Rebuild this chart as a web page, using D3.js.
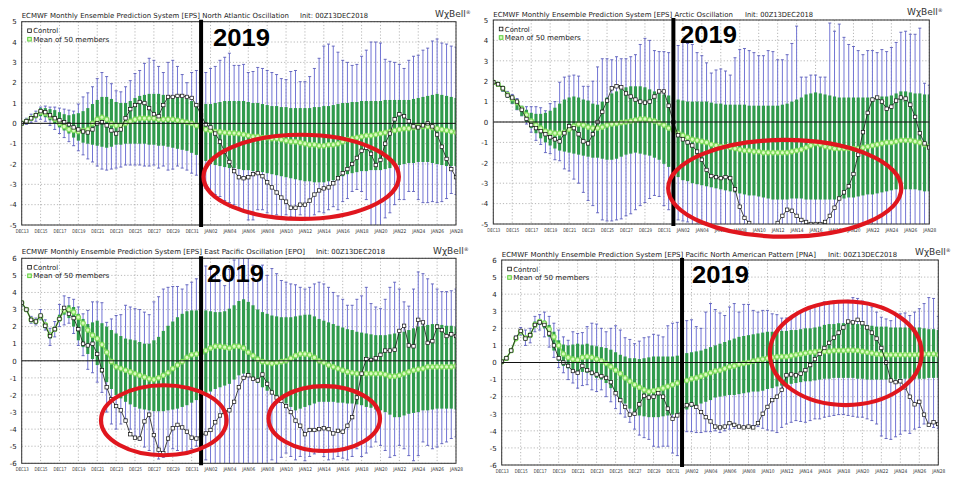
<!DOCTYPE html>
<html>
<head>
<meta charset="utf-8">
<script src="https://cdn.jsdelivr.net/npm/d3@7"></script>
<style>
  body { margin: 0; background: #fff; }
  svg { display: block; }
  text { font-family: "DejaVu Sans", Verdana, sans-serif; }
</style>
</head>
<body>
<svg id="chart"></svg>
<script>
// 12-hourly steps from 00Z 13 Dec 2018 to 00Z 28 Jan 2019 (93 steps)
const xTickLabels = ['DEC13', 'DEC15', 'DEC17', 'DEC19', 'DEC21', 'DEC23', 'DEC25', 'DEC27', 'DEC29', 'DEC31',
  'JAN02', 'JAN04', 'JAN06', 'JAN08', 'JAN10', 'JAN12', 'JAN14', 'JAN16', 'JAN18', 'JAN20', 'JAN22', 'JAN24', 'JAN26', 'JAN28']
const yTicks5 = [-5, -4, -3, -2, -1, 0, 1, 2, 3, 4, 5]
const yTicks6 = [-6, -5, -4, -3, -2, -1, 0, 1, 2, 3, 4, 5, 6]

// North Atlantic Oscillation
const naoControl = [
  0.0, 0.1, 0.25, 0.4, 0.6, 0.55, 0.4, 0.25, 0.15, 0.05,
  -0.05, -0.2, -0.3, -0.4, -0.45, -0.3, 0.0, 0.05, -0.1, -0.35,
  -0.5, -0.3, 0.25, 0.7, 0.9, 1.05, 1.0, 0.75, 0.45, 0.35,
  0.9, 1.3, 1.3, 1.35, 1.35, 1.3, 1.25, 0.9, 0.4, -0.05,
  -0.2, -0.5, -0.9, -1.4, -1.9, -2.35, -2.65, -2.7, -2.65, -2.5,
  -2.45, -2.6, -2.9, -3.15, -3.4, -3.65, -3.85, -4.15, -4.15, -4.0,
  -4.0, -3.8, -3.5, -3.3, -3.2, -3.15, -2.95, -2.7, -2.45, -2.25,
  -2.0, -1.7, -1.35, -1.2, -1.5, -2.05, -1.8, -1.0, -0.5, 0.2,
  0.45, 0.35, 0.1, -0.15, -0.2, -0.1, 0.0, -0.15, -0.55, -1.15,
  -1.75, -2.25, -2.65]
const naoMean = [
  0.0, 0.1, 0.25, 0.4, 0.55, 0.5, 0.35, 0.2, 0.0, -0.15,
  -0.3, -0.35, -0.4, -0.35, -0.3, 0.0, 0.2, 0.3, 0.2, 0.0,
  -0.1, -0.1, 0.0, 0.1, 0.2, 0.25, 0.25, 0.25, 0.25, 0.2,
  0.2, 0.2, 0.2, 0.15, 0.1, 0.05, 0.0, -0.1, -0.2, -0.3,
  -0.35, -0.4, -0.42, -0.45, -0.47, -0.48, -0.5, -0.55, -0.6, -0.65,
  -0.65, -0.7, -0.7, -0.75, -0.75, -0.8, -0.85, -0.9, -0.9, -0.95,
  -1.0, -1.05, -1.05, -1.1, -1.1, -1.05, -1.05, -1.0, -0.9, -0.8,
  -0.75, -0.7, -0.65, -0.6, -0.6, -0.55, -0.5, -0.45, -0.4, -0.35,
  -0.3, -0.25, -0.25, -0.2, -0.15, -0.15, -0.15, -0.2, -0.25, -0.3,
  -0.35, -0.4, -0.45]
const naoBoxHi = [
  0.05, 0.15, 0.3, 0.5, 0.75, 0.75, 0.7, 0.65, 0.55, 0.45,
  0.4, 0.45, 0.5, 0.6, 0.75, 0.95, 1.15, 1.3, 1.3, 1.2,
  1.05, 1.0, 1.0, 1.1, 1.25, 1.35, 1.4, 1.45, 1.45, 1.45,
  1.4, 1.35, 1.35, 1.3, 1.25, 1.2, 1.1, 1.0, 0.95, 0.95,
  0.95, 1.0, 1.05, 1.1, 1.1, 1.1, 1.1, 1.1, 1.05, 1.0,
  1.0, 0.95, 0.9, 0.85, 0.85, 0.8, 0.8, 0.75, 0.75, 0.75,
  0.75, 0.75, 0.8, 0.8, 0.85, 0.85, 0.9, 0.95, 1.0, 1.0,
  1.05, 1.05, 1.1, 1.1, 1.1, 1.1, 1.1, 1.15, 1.15, 1.15,
  1.15, 1.15, 1.15, 1.2, 1.25, 1.3, 1.35, 1.4, 1.45, 1.4,
  1.35, 1.3, 1.25]
const naoBoxLo = [
  -0.05, 0.05, 0.15, 0.25, 0.35, 0.3, 0.15, 0.0, -0.2, -0.35,
  -0.5, -0.7, -0.85, -0.95, -1.0, -1.05, -1.1, -1.15, -1.2, -1.15,
  -1.05, -1.05, -1.0, -1.0, -1.0, -1.0, -1.0, -1.05, -1.05, -1.1,
  -1.1, -1.15, -1.2, -1.25, -1.3, -1.35, -1.45, -1.55, -1.7, -1.85,
  -2.0, -2.05, -2.1, -2.15, -2.2, -2.2, -2.25, -2.3, -2.3, -2.35,
  -2.35, -2.4, -2.45, -2.5, -2.55, -2.6, -2.65, -2.7, -2.75, -2.8,
  -2.85, -2.85, -2.9, -2.9, -2.9, -2.85, -2.8, -2.7, -2.6, -2.5,
  -2.45, -2.4, -2.35, -2.35, -2.3, -2.3, -2.3, -2.25, -2.2, -2.1,
  -2.05, -2.0, -1.95, -1.95, -1.9, -1.9, -1.9, -1.95, -2.0, -2.05,
  -2.1, -2.1, -2.1]
const naoWhiskHi = [
  0.1, 0.25, 0.45, 0.6, 0.8, 0.85, 0.8, 0.8, 0.75, 0.7,
  0.65, 0.6, 0.95, 1.3, 1.5, 1.8, 2.2, 2.5, 2.3, 1.95,
  1.6, 1.55, 1.8, 2.1, 2.45, 2.6, 2.95, 3.2, 3.1, 2.8,
  2.5, 3.0, 3.1, 2.8, 2.4, 2.0, 2.5, 2.6, 2.55, 2.5,
  2.7, 2.8, 3.1, 3.25, 3.45, 2.85, 2.85, 2.9, 2.5, 2.55,
  2.75, 2.7, 2.6, 2.5, 2.4, 2.2, 2.15, 2.55, 2.6, 2.05,
  2.05, 2.3, 2.7, 3.2, 3.8, 3.9, 3.8, 3.5, 3.1, 3.0,
  2.85, 2.9, 3.3, 3.6, 4.0, 4.0, 3.95, 3.15, 3.05, 3.0,
  2.9, 2.7, 3.1, 3.3, 3.35, 3.6, 3.7, 4.05, 4.15, 3.95,
  3.9, 3.8, 3.75]
const naoWhiskLo = [
  -0.1, -0.05, 0.05, 0.1, 0.2, 0.1, -0.1, -0.3, -0.5, -0.7,
  -0.9, -1.1, -1.35, -1.55, -1.75, -1.9, -2.1, -2.25, -2.3, -2.25,
  -2.2, -2.15, -2.05, -2.05, -2.05, -2.05, -2.1, -2.1, -2.05, -2.2,
  -2.1, -2.3, -2.25, -2.1, -2.2, -2.3, -2.45, -2.55, -2.75, -3.2,
  -3.4, -3.5, -3.6, -3.8, -3.9, -4.0, -4.15, -4.3, -4.75, -4.75,
  -4.25, -4.25, -4.4, -4.6, -4.5, -4.65, -4.5, -4.6, -4.65, -4.5,
  -4.75, -4.65, -4.5, -4.35, -4.4, -4.25, -4.1, -4.25, -3.85, -3.7,
  -3.35, -3.25, -3.35, -3.75, -5.3, -5.3, -5.3, -4.65, -4.4, -4.0,
  -3.75, -3.75, -3.35, -3.35, -3.75, -3.9, -3.9, -3.85, -3.9, -3.85,
  -3.7, -3.45, -3.5]

// Arctic Oscillation
const aoControl = [
  1.95, 1.85, 1.65, 1.3, 1.2, 1.0, 0.6, 0.15, -0.15, -0.3,
  -0.45, -0.6, -0.75, -0.85, -0.95, -0.55, -0.2, -0.3, -0.6, -0.95,
  -1.05, -0.6, 0.0, 0.5, 1.05, 1.65, 1.75, 1.7, 1.4, 1.25,
  1.1, 1.0, 0.95, 1.0, 1.25, 1.5, 1.5, 0.8, 0.0, -0.65,
  -0.85, -1.0, -1.15, -1.45, -1.85, -2.35, -2.65, -2.7, -2.75, -2.7,
  -2.75, -3.3, -4.15, -4.7, -4.95, -5.3, -5.6, -5.7, -5.6, -5.3,
  -4.95, -4.6, -4.3, -4.35, -4.6, -4.8, -4.9, -5.0, -5.0, -5.0,
  -4.9, -4.6, -4.2, -3.75, -3.45, -3.15, -2.55, -1.6, -0.5, 0.45,
  1.1, 1.2, 1.0, 0.65, 0.75, 1.05, 1.2, 1.15, 0.85, 0.25,
  -0.55, -1.05, -1.25]
const aoMean = [
  1.95, 1.85, 1.65, 1.35, 1.15, 0.95, 0.65, 0.35, 0.05, -0.15,
  -0.3, -0.45, -0.5, -0.55, -0.55, -0.5, -0.35, -0.2, -0.1, -0.15,
  -0.25, -0.3, -0.3, -0.25, -0.15, -0.1, -0.07, -0.03, 0.0, 0.05,
  0.1, 0.15, 0.15, 0.1, 0.05, -0.05, -0.15, -0.3, -0.4, -0.55,
  -0.65, -0.75, -0.85, -0.9, -0.95, -1.0, -1.1, -1.15, -1.2, -1.2,
  -1.25, -1.3, -1.35, -1.4, -1.4, -1.45, -1.45, -1.5, -1.5, -1.5,
  -1.5, -1.5, -1.5, -1.45, -1.4, -1.35, -1.25, -1.15, -1.05, -1.1,
  -1.2, -1.25, -1.3, -1.3, -1.3, -1.3, -1.3, -1.3, -1.25, -1.2,
  -1.15, -1.1, -1.05, -1.0, -1.0, -0.95, -0.9, -0.9, -0.9, -0.95,
  -1.0, -1.1, -1.2]
const aoBoxHi = [
  1.95, 1.9, 1.7, 1.45, 1.3, 1.1, 0.8, 0.6, 0.45, 0.4,
  0.4, 0.45, 0.55, 0.7, 0.9, 1.1, 1.2, 1.25, 1.2, 1.1,
  1.05, 0.9, 0.85, 1.0, 1.2, 1.4, 1.5, 1.6, 1.7, 1.75,
  1.75, 1.75, 1.7, 1.6, 1.5, 1.4, 1.35, 1.3, 1.2, 1.1,
  1.05, 1.0, 1.0, 1.0, 1.0, 1.0, 0.95, 0.9, 0.9, 0.85,
  0.85, 0.85, 0.85, 0.85, 0.8, 0.8, 0.8, 0.8, 0.8, 0.8,
  0.8, 0.85, 0.9, 1.0, 1.1, 1.2, 1.35, 1.4, 1.45, 1.4,
  1.35, 1.3, 1.25, 1.2, 1.2, 1.2, 1.2, 1.2, 1.2, 1.2,
  1.2, 1.2, 1.25, 1.25, 1.3, 1.4, 1.5, 1.5, 1.45, 1.4,
  1.4, 1.35, 1.35]
const aoBoxLo = [
  1.9, 1.75, 1.5, 1.2, 0.9, 0.6, 0.3, 0.0, -0.3, -0.55,
  -0.8, -1.0, -1.15, -1.3, -1.4, -1.45, -1.5, -1.55, -1.6, -1.65,
  -1.7, -1.75, -1.75, -1.8, -1.85, -1.85, -1.8, -1.7, -1.6, -1.55,
  -1.5, -1.55, -1.6, -1.65, -1.75, -1.85, -2.05, -2.2, -2.5, -2.7,
  -2.85, -2.9, -3.0, -3.05, -3.1, -3.15, -3.2, -3.25, -3.3, -3.35,
  -3.4, -3.45, -3.5, -3.55, -3.6, -3.6, -3.65, -3.7, -3.75, -3.8,
  -3.8, -3.8, -3.8, -3.75, -3.75, -3.75, -3.8, -3.8, -3.8, -3.8,
  -3.8, -3.8, -3.8, -3.75, -3.75, -3.7, -3.7, -3.65, -3.6, -3.55,
  -3.55, -3.5, -3.45, -3.4, -3.35, -3.3, -3.3, -3.3, -3.3, -3.3,
  -3.35, -3.4, -3.4]
const aoWhiskHi = [
  2.0, 1.95, 1.75, 1.5, 1.35, 1.15, 0.75, 0.75, 0.75, 0.75,
  0.7, 0.55, 0.9, 1.0, 1.95, 2.2, 2.25, 2.3, 2.25, 1.75,
  1.75, 2.0, 2.7, 3.1, 3.1, 3.05, 3.2, 3.1, 3.1, 3.2,
  3.3, 3.8, 4.1, 4.0, 3.5, 3.45, 3.45, 3.4, 3.7, 3.75,
  3.9, 3.85, 3.8, 3.4, 3.25, 2.9, 2.4, 2.55, 2.6, 2.5,
  2.3, 3.15, 3.55, 3.6, 3.5, 3.4, 3.25, 3.25, 3.5, 3.45,
  3.05, 3.05, 3.3, 3.85, 4.7, 2.2, 2.2, 2.3, 2.3, 2.2,
  2.2, 4.85, 4.45, 4.8, 4.15, 3.8, 3.7, 3.5, 3.3, 3.5,
  3.5, 3.4, 3.55, 3.45, 3.65, 3.9, 4.4, 4.45, 4.3, 4.3,
  4.6, 1.9, 1.8]
const aoWhiskLo = [
  1.9, 1.75, 1.5, 1.2, 0.9, 0.6, 0.3, -0.1, -0.5, -0.9,
  -1.1, -1.5, -1.55, -1.85, -1.9, -2.3, -2.4, -2.8, -3.0, -3.45,
  -3.85, -4.1, -4.45, -4.8, -4.85, -4.85, -4.8, -4.75, -4.6, -4.5,
  -4.3, -4.1, -3.95, -3.75, -3.6, -3.65, -4.1, -4.3, -4.6, -4.8,
  -4.85, -4.9, -5.3, -5.3, -5.3, -5.3, -5.3, -5.3, -5.3, -5.3,
  -5.3, -5.3, -5.3, -5.3, -5.3, -5.3, -5.3, -5.3, -5.3, -5.3,
  -5.3, -5.3, -5.3, -5.3, -5.3, -5.3, -5.3, -5.3, -5.3, -5.3,
  -5.3, -5.3, -5.3, -5.3, -5.3, -5.3, -5.3, -5.3, -5.3, -5.3,
  -5.3, -5.3, -5.3, -5.3, -5.3, -5.3, -5.3, -5.3, -5.3, -5.3,
  -5.3, -5.3, -5.3]

// East Pacific Oscillation
const epoControl = [
  3.4, 3.0, 2.4, 2.3, 2.65, 2.05, 1.45, 1.85, 2.45, 3.1,
  2.75, 2.5, 1.85, 1.0, 0.9, 1.0, 0.4, -0.55, -1.55, -2.25,
  -2.65, -2.9, -3.5, -4.3, -4.5, -4.55, -3.55, -3.15, -4.35, -5.2,
  -5.4, -4.55, -3.95, -3.75, -3.9, -4.15, -4.5, -4.55, -4.35, -4.25,
  -4.05, -3.6, -3.2, -3.0, -2.9, -2.4, -1.55, -1.0, -0.85, -1.05,
  -1.15, -0.8, -1.35, -1.85, -2.15, -2.35, -2.65, -3.0, -3.5, -3.8,
  -4.3, -4.05, -4.05, -4.0, -3.95, -4.0, -4.25, -4.1, -4.15, -3.8,
  -3.3, -2.15, -0.75, 0.1, 0.05, 0.15, 0.35, 0.6, 0.6, 0.65,
  1.75, 2.05, 0.9, 0.85, 2.4, 2.25, 1.05, 1.15, 2.0, 1.8,
  1.45, 1.55, 1.45]
const epoMean = [
  3.4, 3.0, 2.4, 2.3, 2.6, 2.1, 1.5, 1.85, 2.45, 2.95,
  3.0, 2.85, 2.55, 2.2, 1.8, 1.5, 1.3, 0.95, 0.5, -0.05,
  -0.35, -0.45, -0.55, -0.65, -0.75, -0.85, -0.95, -1.05, -1.1, -1.0,
  -0.85, -0.7, -0.45, -0.25, -0.05, 0.2, 0.35, 0.4, 0.45, 0.6,
  0.75, 0.85, 0.85, 0.8, 0.75, 0.85, 0.85, 0.75, 0.5, 0.3,
  0.1, -0.05, -0.1, -0.15, -0.1, -0.05, 0.0, 0.15, 0.3, 0.4,
  0.4, 0.35, 0.2, 0.0, -0.1, -0.25, -0.35, -0.45, -0.55, -0.65,
  -0.7, -0.75, -0.75, -0.75, -0.75, -0.75, -0.75, -0.8, -0.9, -0.9,
  -0.85, -0.75, -0.65, -0.55, -0.5, -0.45, -0.35, -0.35, -0.35, -0.35,
  -0.35, -0.35, -0.3]
const epoBoxHi = [
  3.45, 3.05, 2.5, 2.4, 2.75, 2.2, 1.65, 2.0, 2.7, 3.2,
  3.25, 3.15, 2.75, 2.45, 2.15, 2.25, 2.35, 2.2, 2.0, 1.8,
  1.6, 1.45, 1.3, 1.25, 1.2, 1.1, 1.0, 1.0, 1.2, 1.4,
  1.75, 2.05, 2.3, 2.55, 2.75, 2.9, 2.95, 2.95, 2.95, 2.95,
  2.9, 2.85, 2.85, 2.9, 3.05, 3.25, 3.5, 3.6, 3.45, 3.25,
  3.0, 2.85, 2.75, 2.65, 2.6, 2.55, 2.55, 2.55, 2.6, 2.65,
  2.7, 2.7, 2.6, 2.45, 2.35, 2.25, 2.15, 2.05, 1.95, 1.85,
  1.8, 1.7, 1.65, 1.6, 1.55, 1.5, 1.5, 1.5, 1.55, 1.6,
  1.6, 1.7, 1.8, 1.9, 2.0, 2.05, 2.1, 2.15, 2.15, 2.1,
  2.05, 2.05, 2.0]
const epoBoxLo = [
  3.3, 2.95, 2.3, 2.2, 2.5, 1.9, 1.3, 1.7, 2.3, 2.7,
  2.5, 2.0, 1.2, 0.8, 0.4, 0.1, -0.25, -0.7, -1.25, -1.65,
  -2.0, -2.2, -2.4, -2.55, -2.7, -2.8, -2.85, -2.9, -2.95, -2.95,
  -2.95, -2.9, -2.85, -2.8, -2.7, -2.6, -2.45, -2.3, -2.1, -1.95,
  -1.8, -1.65, -1.55, -1.45, -1.35, -1.1, -0.85, -0.75, -0.85, -1.05,
  -1.3, -1.55, -1.75, -1.95, -2.15, -2.3, -2.5, -2.7, -2.9, -2.8,
  -2.7, -2.6, -2.5, -2.4, -2.4, -2.4, -2.4, -2.45, -2.45, -2.5,
  -2.5, -2.55, -2.6, -2.7, -2.75, -2.85, -2.9, -3.0, -3.15, -3.3,
  -3.3, -3.2, -3.1, -3.05, -3.0, -2.9, -2.9, -2.85, -2.8, -2.8,
  -2.8, -2.8, -2.85]
const epoWhiskHi = [
  3.5, 3.1, 2.6, 2.5, 3.0, 2.4, 1.9, 2.3, 3.3, 3.8,
  3.7, 3.6, 3.15, 2.75, 2.95, 3.45, 3.45, 3.4, 2.25, 2.45,
  2.65, 2.7, 3.25, 3.15, 3.05, 3.0, 2.85, 2.7, 3.45, 3.75,
  4.2, 4.3, 4.35, 4.35, 4.2, 4.45, 4.6, 4.8, 5.0, 5.55,
  5.35, 5.1, 4.7, 4.4, 5.35, 5.9, 6.2, 6.0, 6.0, 5.6,
  4.7, 5.6, 5.0, 5.4, 5.1, 4.7, 4.6, 4.5, 4.45, 4.3,
  4.2, 4.3, 4.5, 4.6, 4.5, 4.3, 4.0, 3.8, 3.6, 3.25,
  3.25, 3.6, 3.8, 4.3, 3.35, 3.15, 3.05, 3.6, 4.3, 4.6,
  4.2, 3.45, 3.2, 4.2, 5.2, 5.1, 4.8, 4.5, 4.2, 4.05,
  4.05, 4.1, 4.2]
const epoWhiskLo = [
  3.2, 2.9, 2.2, 2.1, 2.4, 1.8, 0.9, 1.4, 2.0, 2.1,
  2.2, 1.6, 0.9, 0.3, -0.5, -0.7, -1.25, -1.85, -3.0, -3.7,
  -4.0, -3.7, -3.4, -4.0, -4.45, -4.65, -5.05, -5.25, -5.55, -5.75,
  -5.65, -5.45, -5.15, -5.25, -5.45, -5.3, -5.15, -5.0, -5.5, -5.8,
  -6.2, -6.2, -6.2, -6.2, -6.2, -6.2, -6.2, -6.2, -6.2, -6.2,
  -6.2, -6.2, -6.2, -5.8, -6.0, -5.65, -5.4, -5.6, -5.8, -5.6,
  -5.85, -5.6, -5.45, -5.35, -5.6, -5.8, -5.75, -5.6, -5.7, -5.8,
  -5.6, -5.15, -5.6, -5.4, -5.05, -4.75, -4.95, -5.25, -5.65, -5.55,
  -4.95, -5.15, -5.55, -5.85, -5.55, -4.75, -4.95, -5.15, -5.05, -4.85,
  -4.75, -4.55, -4.45]

// Pacific North American Pattern
const pnaControl = [
  0.05, 0.25, 0.7, 1.45, 1.85, 1.4, 1.6, 2.2, 2.35, 2.2,
  1.7, 1.0, 0.25, 0.0, -0.2, -0.5, -0.6, -0.2, -0.45, -0.6,
  -0.7, -0.8, -0.9, -1.15, -1.8, -2.2, -2.6, -3.05, -3.0, -2.45,
  -1.95, -2.05, -2.0, -1.8, -2.0, -2.7, -3.3, -3.1, -2.8, -2.5,
  -2.45, -2.6, -2.9, -3.2, -3.45, -3.75, -3.8, -3.75, -3.55, -3.65,
  -3.75, -3.8, -3.75, -3.8, -3.55, -3.0, -2.6, -2.2, -2.0, -1.6,
  -0.75, -0.7, -0.75, -0.65, -0.45, -0.15, 0.2, 0.5, 0.85, 1.15,
  1.45, 1.75, 2.05, 2.4, 2.35, 2.5, 2.3, 2.05, 1.75, 1.4,
  0.85, 0.0, -1.05, -1.15, -1.1, -1.45, -2.0, -2.45, -2.3, -3.05,
  -3.65, -3.5, -3.6]
const pnaMean = [
  0.05, 0.25, 0.7, 1.4, 1.8, 1.45, 1.6, 2.2, 2.4, 2.3,
  1.95, 1.5, 1.0, 0.5, 0.3, 0.2, 0.15, 0.3, 0.35, 0.3,
  0.2, 0.1, -0.05, -0.25, -0.45, -0.65, -0.9, -1.1, -1.3, -1.45,
  -1.6, -1.7, -1.65, -1.6, -1.5, -1.4, -1.3, -1.2, -1.1, -1.05,
  -0.95, -0.9, -0.8, -0.7, -0.6, -0.5, -0.45, -0.35, -0.25, -0.2,
  -0.1, -0.05, 0.0, 0.08, 0.15, 0.2, 0.25, 0.3, 0.33, 0.35,
  0.35, 0.4, 0.45, 0.5, 0.55, 0.6, 0.62, 0.65, 0.65, 0.65,
  0.7, 0.7, 0.7, 0.72, 0.72, 0.7, 0.65, 0.6, 0.55, 0.5,
  0.47, 0.45, 0.45, 0.45, 0.45, 0.45, 0.45, 0.45, 0.47, 0.5,
  0.5, 0.5, 0.45]
const pnaBoxHi = [
  0.1, 0.3, 0.75, 1.5, 1.95, 1.55, 1.75, 2.4, 2.55, 2.45,
  2.2, 1.8, 1.3, 1.05, 1.0, 1.05, 1.1, 1.05, 1.1, 1.0,
  0.95, 0.9, 0.85, 0.75, 0.6, 0.45, 0.35, 0.25, 0.25, 0.2,
  0.25, 0.3, 0.35, 0.35, 0.35, 0.35, 0.35, 0.4, 0.45, 0.55,
  0.6, 0.65, 0.7, 0.8, 0.9, 1.0, 1.1, 1.2, 1.3, 1.4,
  1.5, 1.55, 1.6, 1.65, 1.7, 1.75, 1.8, 1.8, 1.85, 1.85,
  1.85, 1.9, 1.9, 1.95, 2.0, 2.0, 2.05, 2.1, 2.2, 2.25,
  2.25, 2.3, 2.3, 2.3, 2.3, 2.25, 2.25, 2.2, 2.15, 2.1,
  2.1, 2.1, 2.05, 2.05, 2.05, 2.05, 2.05, 2.05, 2.05, 2.0,
  1.95, 1.95, 1.9]
const pnaBoxLo = [
  0.0, 0.2, 0.65, 1.35, 1.7, 1.3, 1.45, 2.05, 2.2, 2.0,
  1.5, 0.7, 0.1, -0.2, -0.35, -0.5, -0.6, -0.55, -0.6, -0.75,
  -0.9, -1.0, -1.2, -1.5, -1.8, -2.1, -2.4, -2.7, -2.9, -3.1,
  -3.15, -3.2, -3.2, -3.2, -3.15, -3.1, -3.05, -3.0, -2.9, -2.75,
  -2.6, -2.5, -2.4, -2.3, -2.2, -2.05, -2.0, -1.95, -1.9, -1.9,
  -1.85, -1.8, -1.75, -1.7, -1.7, -1.65, -1.55, -1.5, -1.4, -1.35,
  -1.3, -1.25, -1.2, -1.15, -1.1, -1.1, -1.05, -1.0, -0.95, -0.95,
  -0.9, -0.9, -0.9, -0.9, -0.9, -0.95, -0.95, -1.0, -1.0, -1.0,
  -1.0, -1.0, -1.0, -1.0, -0.95, -0.95, -0.95, -0.95, -0.95, -0.95,
  -0.9, -0.9, -0.9]
const pnaWhiskHi = [
  0.1, 0.3, 0.8, 1.55, 2.05, 1.9, 2.0, 2.7, 2.8, 2.95,
  2.7, 2.3, 1.9, 1.5, 1.3, 1.8, 1.7, 1.75, 2.1, 2.3,
  2.25, 2.0, 1.8, 2.0, 2.15, 1.9, 1.45, 1.35, 1.1, 1.25,
  1.45, 1.5, 1.65, 1.6, 1.5, 2.15, 2.3, 2.35, 2.4, 2.45,
  2.5, 2.1, 2.0, 2.95, 3.45, 3.1, 2.9, 2.75, 3.25, 3.45,
  2.95, 3.4, 3.4, 3.05, 2.95, 3.05, 3.05, 2.85, 2.8, 2.6,
  2.6, 2.55, 2.75, 2.95, 3.05, 3.25, 3.35, 3.45, 3.55, 3.55,
  3.6, 3.6, 3.6, 3.65, 3.8, 3.75, 3.6, 3.45, 3.25, 2.95,
  2.65, 2.55, 2.45, 2.75, 2.85, 2.9, 2.75, 2.95, 3.15, 3.45,
  3.8, 3.75, 2.7]
const pnaWhiskLo = [
  0.0, 0.15, 0.6, 1.3, 1.6, 1.0, 1.15, 1.8, 1.9, 1.5,
  0.9, 0.3, -0.3, -0.6, -1.0, -1.2, -1.5, -1.35, -1.3, -1.6,
  -1.7, -1.6, -2.0, -2.3, -2.7, -3.0, -3.2, -3.5, -3.9, -4.25,
  -4.4, -4.5, -4.9, -4.95, -4.9, -4.9, -5.3, -5.45, -5.0, -4.05,
  -4.05, -4.1, -4.1, -4.05, -4.05, -4.0, -4.1, -4.0, -3.9, -3.85,
  -3.8, -3.75, -3.7, -3.7, -3.75, -3.85, -3.95, -4.0, -4.1, -3.8,
  -3.6, -3.5, -3.4, -3.45, -3.5, -3.4, -3.3, -3.3, -3.2, -3.15,
  -3.1, -3.05, -3.05, -3.1, -3.15, -3.2, -3.2, -3.3, -3.4, -3.6,
  -4.3, -4.45, -4.5, -4.35, -4.2, -4.0, -4.15, -3.9, -3.8, -3.6,
  -3.7, -3.8, -3.85]

const titleBase = 'ECMWF Monthly Ensemble Prediction System [EPS] '
const initText = 'Init: 00Z13DEC2018'
const yearIndex = 38   // 00Z 01 Jan 2019

const panels = [
  { name: 'North Atlantic Oscillation', box: [21.7, 21.7, 456, 225], yDomain: [-5, 5], yTicks: yTicks5,
    control: naoControl, mean: naoMean, boxHi: naoBoxHi, boxLo: naoBoxLo, whiskHi: naoWhiskHi, whiskLo: naoWhiskLo,
    titleY: 17.5, titleEnd: 289, initX: 300, initEnd: 368, logoX: 435, logoY: 16.5, yearX: 213, yearY: 45.5,
    ellipses: [{ i: 59.2, v: -2.63, ri: 20.7, rv: 2.07 }] },
  { name: 'Arctic Oscillation', box: [493.3, 20, 929.3, 224], yDomain: [-5, 5], yTicks: yTicks5,
    control: aoControl, mean: aoMean, boxHi: aoBoxHi, boxLo: aoBoxLo, whiskHi: aoWhiskHi, whiskLo: aoWhiskLo,
    titleY: 16.5, titleEnd: 733, initX: 745, initEnd: 813, logoX: 907, logoY: 15, yearX: 680, yearY: 43,
    ellipses: [{ i: 61.5, v: -3.25, ri: 24.6, rv: 2.37 }] },
  { name: 'East Pacific Oscillation [EPO]', box: [21.7, 258.3, 456, 463.3], yDomain: [-6, 6], yTicks: yTicks6,
    control: epoControl, mean: epoMean, boxHi: epoBoxHi, boxLo: epoBoxLo, whiskHi: epoWhiskHi, whiskLo: epoWhiskLo,
    titleY: 253.5, titleEnd: 305, initX: 316, initEnd: 385, logoX: 433, logoY: 254, yearX: 207, yearY: 282,
    ellipses: [{ i: 30.1, v: -3.48, ri: 13.3, rv: 2.05 }, { i: 64.1, v: -3.38, ri: 11.8, rv: 1.9 }] },
  { name: 'Pacific North American Pattern [PNA]', box: [501.7, 260, 938.3, 465], yDomain: [-6, 6], yTicks: yTicks6,
    control: pnaControl, mean: pnaMean, boxHi: pnaBoxHi, boxLo: pnaBoxLo, whiskHi: pnaWhiskHi, whiskLo: pnaWhiskLo,
    titleY: 257, titleEnd: 816, initX: 828, initEnd: 897, logoX: 915, logoY: 255, yearX: 692, yearY: 283.3,
    ellipses: [{ i: 72.5, v: 0.54, ri: 16.0, rv: 3.03 }] },
]

const n = naoControl.length
const svg = d3.select('#chart').attr('width', 960).attr('height', 492)
const defs = svg.append('defs')

const drawPanel = (p, k) => {
  const [left, top, right, bottom] = p.box
  const x = d3.scaleLinear().domain([0, n - 1]).range([left, right])
  const y = d3.scaleLinear().domain(p.yDomain).range([bottom, top])
  const step = x(1) - x(0)
  const idx = d3.range(n)
  const tickIdx = xTickLabels.map((_, j) => j * 4)

  defs.append('clipPath').attr('id', 'clip' + k)
    .append('rect').attr('x', left).attr('y', top).attr('width', right - left).attr('height', bottom - top)

  const g = svg.append('g')

  // dotted grid
  g.append('g').selectAll('line').data(tickIdx).join('line')
    .attr('x1', d => x(d)).attr('x2', d => x(d)).attr('y1', top).attr('y2', bottom)
    .attr('stroke', '#9a9a9a').attr('stroke-width', 0.7).attr('stroke-dasharray', '1.2,2')
  g.append('g').selectAll('line').data(p.yTicks).join('line')
    .attr('x1', left).attr('x2', right).attr('y1', d => y(d)).attr('y2', d => y(d))
    .attr('stroke', '#9a9a9a').attr('stroke-width', 0.7).attr('stroke-dasharray', '1.2,2')

  // axes
  const yAxis = g.append('g').attr('transform', `translate(${left},0)`)
    .call(d3.axisLeft(y).tickValues(p.yTicks).tickSize(0).tickPadding(5).tickFormat(d => String(d)))
  yAxis.select('.domain').remove()
  yAxis.selectAll('text').attr('font-size', 7).attr('fill', '#222').style('font-family', '"DejaVu Sans", sans-serif')

  const xAxis = g.append('g').attr('transform', `translate(0,${bottom})`)
    .call(d3.axisBottom(x).tickValues(tickIdx).tickSize(0).tickPadding(4).tickFormat((d, j) => xTickLabels[j]))
  xAxis.select('.domain').remove()
  xAxis.selectAll('text').attr('font-size', 5).attr('fill', '#333')
    .attr('textLength', 13).attr('lengthAdjust', 'spacingAndGlyphs').style('font-family', '"DejaVu Sans", sans-serif')

  const plot = g.append('g').attr('clip-path', `url(#clip${k})`)

  // whiskers
  plot.append('g').selectAll('line').data(idx).join('line')
    .attr('x1', i => x(i)).attr('x2', i => x(i))
    .attr('y1', i => y(p.whiskHi[i])).attr('y2', i => y(p.whiskLo[i]))
    .attr('stroke', '#7275d4').attr('stroke-width', 1)
  plot.append('g').selectAll('line').data(idx).join('line')
    .attr('x1', i => x(i) - 1.5).attr('x2', i => x(i) + 1.5)
    .attr('y1', i => y(p.whiskHi[i])).attr('y2', i => y(p.whiskHi[i]))
    .attr('stroke', '#5a5cb8').attr('stroke-width', 0.9)
  plot.append('g').selectAll('line').data(idx).join('line')
    .attr('x1', i => x(i) - 1.5).attr('x2', i => x(i) + 1.5)
    .attr('y1', i => y(p.whiskLo[i])).attr('y2', i => y(p.whiskLo[i]))
    .attr('stroke', '#5a5cb8').attr('stroke-width', 0.9)

  // interquartile boxes
  plot.append('g').selectAll('rect').data(idx).join('rect')
    .attr('x', i => x(i) - step * 0.33).attr('width', step * 0.66)
    .attr('y', i => y(p.boxHi[i])).attr('height', i => Math.max(0.8, y(p.boxLo[i]) - y(p.boxHi[i])))
    .attr('fill', '#2f9a4c')

  // zero line
  g.append('line').attr('x1', left).attr('x2', right).attr('y1', y(0)).attr('y2', y(0))
    .attr('stroke', '#111').attr('stroke-width', 1)

  // ensemble mean
  const line = d3.line().x((d, i) => x(i)).y(d => y(d))
  plot.append('path').datum(p.mean).attr('d', line)
    .attr('fill', 'none').attr('stroke', '#7fdc5c').attr('stroke-width', 1.6)
  plot.append('g').selectAll('circle').data(p.mean).join('circle')
    .attr('cx', (d, i) => x(i)).attr('cy', d => y(d)).attr('r', 2.2)
    .attr('fill', '#d8fbbd').attr('stroke', '#7fdc5c').attr('stroke-width', 1.2)

  // control run
  plot.append('path').datum(p.control).attr('d', line)
    .attr('fill', 'none').attr('stroke', '#111').attr('stroke-width', 0.8)
  plot.append('g').selectAll('rect').data(p.control).join('rect')
    .attr('x', (d, i) => x(i) - 1.7).attr('y', d => y(d) - 1.7).attr('width', 3.4).attr('height', 3.4)
    .attr('fill', '#fff').attr('stroke', '#111').attr('stroke-width', 0.7)

  // frame
  g.append('rect').attr('x', left).attr('y', top).attr('width', right - left).attr('height', bottom - top)
    .attr('fill', 'none').attr('stroke', '#333').attr('stroke-width', 1)

  // start of 2019
  g.append('line').attr('x1', x(yearIndex)).attr('x2', x(yearIndex))
    .attr('y1', top - 2).attr('y2', bottom + 2)
    .attr('stroke', '#000').attr('stroke-width', 4)
  g.append('text').attr('x', p.yearX).attr('y', p.yearY).text('2019')
    .attr('font-size', 24).attr('font-weight', 'bold').attr('fill', '#000')
    .attr('textLength', 57).attr('lengthAdjust', 'spacingAndGlyphs')
    .style('font-family', '"Liberation Sans", Arial, sans-serif')

  // red annotation ellipses
  g.append('g').selectAll('ellipse').data(p.ellipses).join('ellipse')
    .attr('cx', e => x(e.i)).attr('cy', e => y(e.v))
    .attr('rx', e => x(e.ri) - x(0)).attr('ry', e => y(0) - y(e.rv))
    .attr('fill', 'none').attr('stroke', '#e0161e').attr('stroke-width', 4.2)

  // legend
  const lg = g.append('g').attr('transform', `translate(${left + 6},${top + 9})`)
  lg.append('rect').attr('x', 0).attr('y', -1.8).attr('width', 3.6).attr('height', 3.6)
    .attr('fill', '#fff').attr('stroke', '#111').attr('stroke-width', 0.8)
  lg.append('text').attr('x', 5.5).attr('y', 2.5).text('Control')
    .attr('font-size', 7).attr('fill', '#222').attr('textLength', 25).attr('lengthAdjust', 'spacingAndGlyphs')
  lg.append('rect').attr('x', 0).attr('y', 6.7).attr('width', 3.6).attr('height', 3.6)
    .attr('fill', '#d8fbbd').attr('stroke', '#5ccc3c').attr('stroke-width', 1)
  lg.append('text').attr('x', 5.5).attr('y', 11).text('Mean of 50 members')
    .attr('font-size', 7).attr('fill', '#222').attr('textLength', 76).attr('lengthAdjust', 'spacingAndGlyphs')

  // titles
  g.append('text').attr('x', left).attr('y', p.titleY).text(titleBase + p.name)
    .attr('font-size', 7).attr('fill', '#222')
    .attr('textLength', p.titleEnd - left).attr('lengthAdjust', 'spacingAndGlyphs')
  g.append('text').attr('x', p.initX).attr('y', p.titleY).text(initText)
    .attr('font-size', 7).attr('fill', '#222')
    .attr('textLength', p.initEnd - p.initX).attr('lengthAdjust', 'spacingAndGlyphs')
  const logo = g.append('text').attr('x', p.logoX).attr('y', p.logoY)
    .attr('font-size', 9).attr('fill', '#333')
  logo.append('tspan').text('WχBell')
  logo.append('tspan').text('®').attr('font-size', 5).attr('dy', -3)
}

panels.forEach(drawPanel)
</script>
</body>
</html>
